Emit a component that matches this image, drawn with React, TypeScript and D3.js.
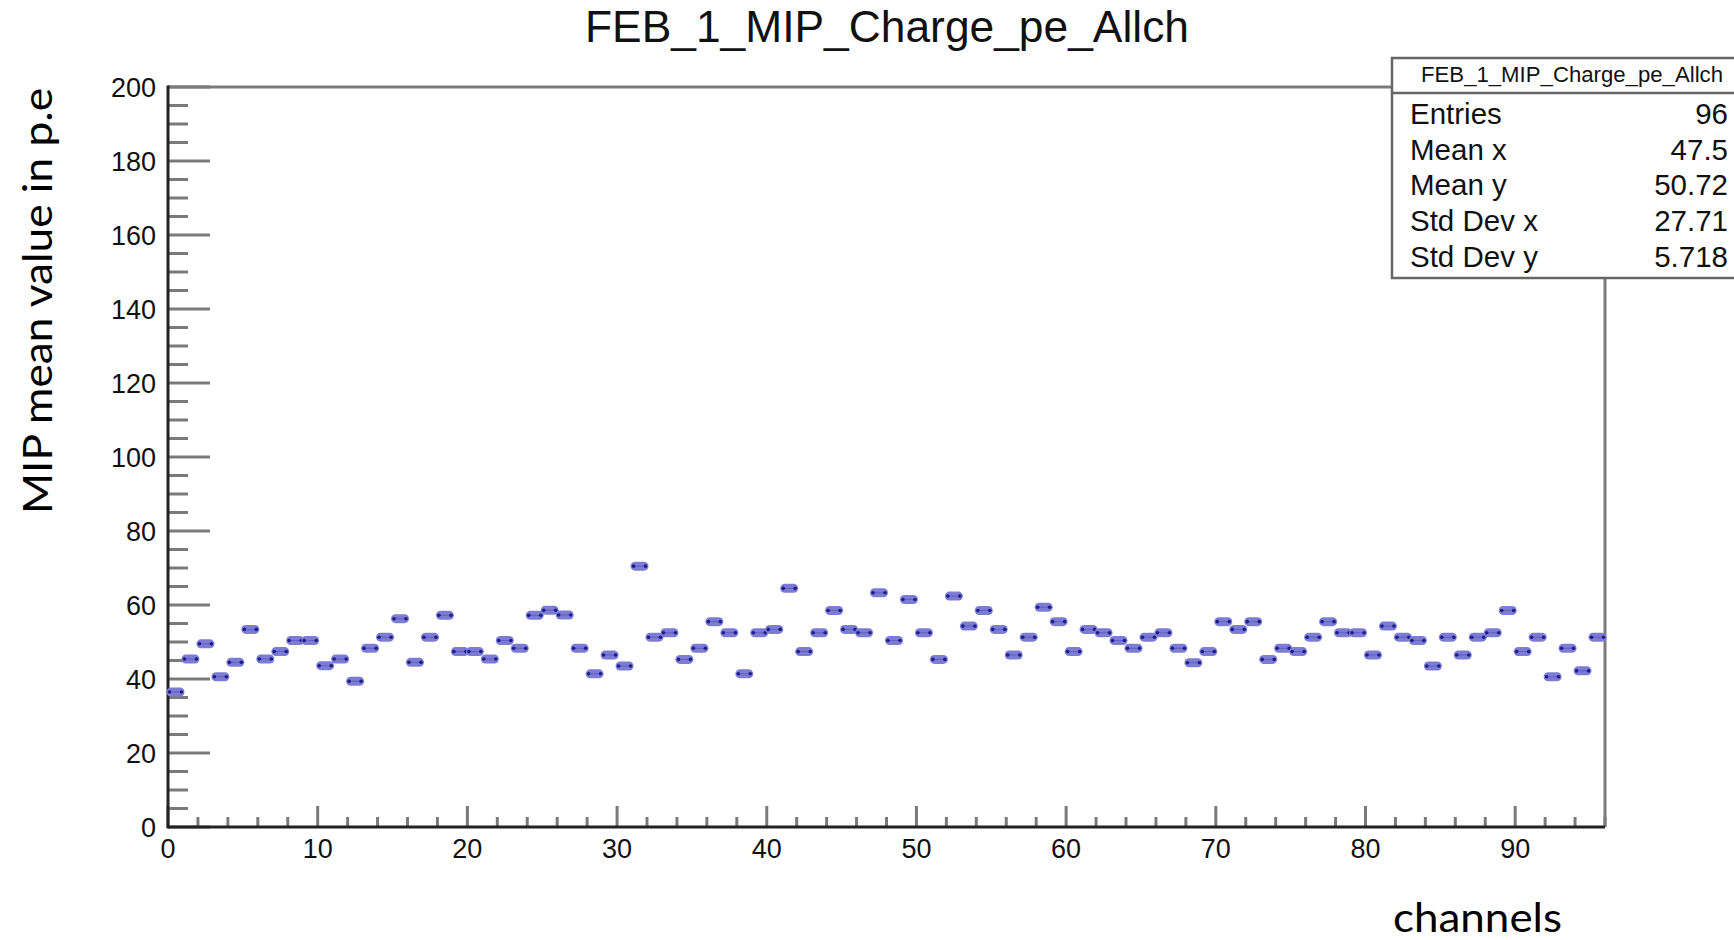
import React from "react";
import * as d3 from "d3";

// Channel values (MIP mean value in p.e), channels 0..95
const channels: number[] = d3.range(96);
const mipValues: number[] = [
  36.5, 45.4, 49.5, 40.6, 44.5, 53.4, 45.4, 47.4, 50.4, 50.4,
  43.6, 45.4, 39.4, 48.3, 51.3, 56.3, 44.5, 51.3, 57.2, 47.4,
  47.4, 45.4, 50.4, 48.3, 57.2, 58.6, 57.3, 48.3, 41.4, 46.5,
  43.5, 70.5, 51.3, 52.5, 45.3, 48.3, 55.5, 52.5, 41.4, 52.5,
  53.4, 64.5, 47.4, 52.5, 58.5, 53.4, 52.5, 63.3, 50.4, 61.5,
  52.5, 45.3, 62.4, 54.3, 58.5, 53.4, 46.5, 51.3, 59.4, 55.5,
  47.4, 53.4, 52.5, 50.4, 48.3, 51.3, 52.5, 48.3, 44.4, 47.4,
  55.5, 53.4, 55.5, 45.3, 48.3, 47.4, 51.3, 55.5, 52.5, 52.5,
  46.5, 54.3, 51.3, 50.4, 43.5, 51.3, 46.5, 51.3, 52.5, 58.5,
  47.4, 51.3, 40.6, 48.3, 42.2, 51.3,
];
const xMajorTicks: number[] = [0, 10, 20, 30, 40, 50, 60, 70, 80, 90];
const xMinorTicks: number[] = d3.range(0, 97, 2);
const yMajorTicks: number[] = [0, 20, 40, 60, 80, 100, 120, 140, 160, 180, 200];
const yMinorTicks: number[] = d3.range(0, 201, 5);
const statLabels: string[] = ["Entries", "Mean x", "Mean y", "Std Dev x", "Std Dev y"];
const statValues: string[] = ["96", "47.5", "50.72", "27.71", "5.718"];
const title = "FEB_1_MIP_Charge_pe_Allch";

const W = 1734;
const H = 940;
const rootFont = "'Liberation Sans', Arial, Helvetica, sans-serif";
const labelFont = "Lato, 'Open Sans', sans-serif";

export default function App() {
  const x = d3.scaleLinear().domain([0, 96]).range([168, 1605]);
  const y = d3.scaleLinear().domain([0, 200]).range([827, 87]);
  const tickColor = "#7a7a7a";
  const x0 = x(0), x1 = x(96), y0 = y(0), y1 = y(200);

  return (
    <svg
      width={W}
      height={H}
      style={{ position: "absolute", left: 0, top: 0, background: "#fff" }}
    >
      <rect x={0} y={0} width={W} height={H} fill="#fff" />
      {/* Title */}
      <text
        x={585}
        y={42}
        fontFamily={rootFont}
        fontSize={44}
        textLength={604}
        lengthAdjust="spacingAndGlyphs"
        fill="#111"
      >
        {title}
      </text>

      {/* frame top/right */}
      <line x1={x0} x2={x1} y1={y1} y2={y1} stroke={tickColor} strokeWidth={3} />
      <line x1={x1} x2={x1} y1={y1} y2={y0} stroke={tickColor} strokeWidth={3} />

      {/* y ticks */}
      {yMinorTicks.map((t) => (
        <line
          key={"ym" + t}
          x1={x0}
          x2={x0 + (t % 20 === 0 ? 42 : 20)}
          y1={y(t)}
          y2={y(t)}
          stroke={tickColor}
          strokeWidth={3}
        />
      ))}
      {/* x ticks */}
      {xMinorTicks.map((t) => (
        <line
          key={"xm" + t}
          x1={x(t)}
          x2={x(t)}
          y1={y0}
          y2={y0 - (t % 10 === 0 ? 21 : 10)}
          stroke={tickColor}
          strokeWidth={3}
        />
      ))}

      {/* axes lines */}
      <line x1={x0} x2={x0} y1={y1 - 1.5} y2={y0 + 1.5} stroke="#222" strokeWidth={3} />
      <line x1={x0} x2={x1} y1={y0} y2={y0} stroke="#222" strokeWidth={3} />

      {/* y tick labels */}
      {yMajorTicks.map((t) => (
        <text
          key={"yl" + t}
          x={156}
          y={y(t) + 9.5}
          textAnchor="end"
          fontFamily={rootFont}
          fontSize={27}
          fill="#111"
        >
          {t}
        </text>
      ))}
      {/* x tick labels */}
      {xMajorTicks.map((t) => (
        <text
          key={"xl" + t}
          x={x(t)}
          y={858}
          textAnchor="middle"
          fontFamily={rootFont}
          fontSize={27}
          fill="#111"
        >
          {t}
        </text>
      ))}

      {/* markers */}
      {channels.map((c) => {
        const v = mipValues[c];
        const xa = x(c);
        const xb = x(c + 1);
        const cy = y(v);
        return (
          <g key={"m" + c}>
            <rect
              x={xa - 1.5}
              y={cy - 4.5}
              width={xb - xa + 3}
              height={9}
              rx={4.5}
              fill="#7c7cd4"
            />
            <line x1={xa} x2={xb} y1={cy} y2={cy} stroke="#1c1c8a" strokeWidth={0.8} opacity={0.35} />
            <circle cx={xa + 1.5} cy={cy} r={1.8} fill="#1c1c8a" />
            <circle cx={xb - 1.5} cy={cy} r={1.8} fill="#1c1c8a" />
          </g>
        );
      })}

      {/* stats box */}
      <rect x={1392} y={58} width={360} height={220} fill="#fff" stroke="#666" strokeWidth={2.5} />
      <line x1={1392} x2={1734} y1={93} y2={93} stroke="#666" strokeWidth={2.5} />
      <text
        x={1421}
        y={82}
        fontFamily={rootFont}
        fontSize={22}
        textLength={302}
        lengthAdjust="spacingAndGlyphs"
        fill="#111"
      >
        {title}
      </text>
      {statLabels.map((s, i) => (
        <text
          key={"sl" + i}
          x={1410}
          y={124 + i * 35.7}
          fontFamily={rootFont}
          fontSize={29.5}
          fill="#111"
        >
          {s}
        </text>
      ))}
      {statValues.map((s, i) => (
        <text
          key={"sv" + i}
          x={1728}
          y={124 + i * 35.7}
          textAnchor="end"
          fontFamily={rootFont}
          fontSize={29.5}
          fill="#111"
        >
          {s}
        </text>
      ))}

      {/* axis titles */}
      <text
        transform={`translate(52,301) rotate(-90)`}
        textAnchor="middle"
        fontFamily={labelFont}
        fontSize={40}
        textLength={426}
        lengthAdjust="spacingAndGlyphs"
        fill="#000"
      >
        MIP mean value in p.e
      </text>
      <text
        x={1393}
        y={932}
        fontFamily={labelFont}
        fontSize={40}
        textLength={169}
        lengthAdjust="spacingAndGlyphs"
        fill="#000"
      >
        channels
      </text>
    </svg>
  );
}
